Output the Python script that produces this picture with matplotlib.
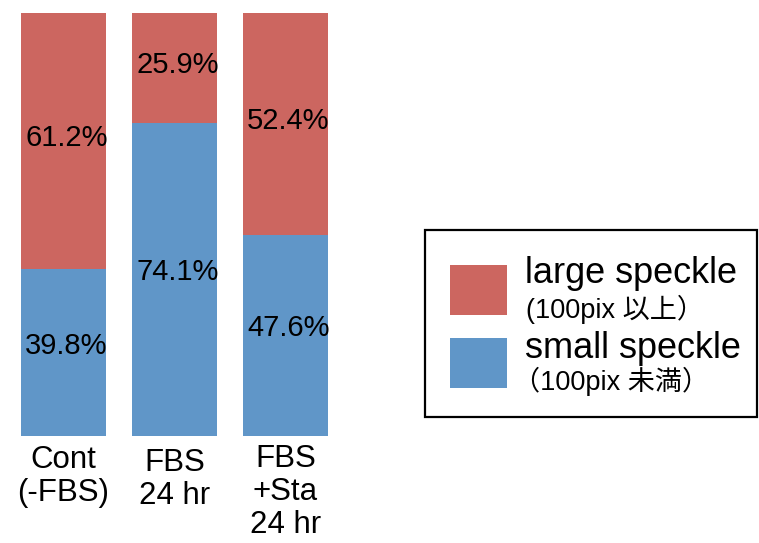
import matplotlib
matplotlib.use("Agg")
import matplotlib.pyplot as plt
from matplotlib.patches import Rectangle
from matplotlib.transforms import blended_transform_factory
import numpy as np

plt.rcParams['font.family'] = ['Liberation Sans', 'Noto Sans CJK JP', 'DejaVu Sans']

categories = ["Cont\n(-FBS)", "FBS\n24 hr", "FBS\n+Sta\n24 hr"]
small_speckle = [39.8, 74.1, 47.6]   # < 100 pix
large_speckle = [61.2, 25.9, 52.4]   # >= 100 pix

series_names = ["large speckle", "small speckle"]
series_notes = ["(100pix 以上）", "（100pix 未満）"]

red = "#CC6660"
blue = "#6096C8"

W, H = 759, 543
fig = plt.figure(figsize=(W / 100, H / 100), dpi=100)
ax = fig.add_axes([21 / W, 107 / H, (328 - 21) / W, (436 - 13) / H])

small = np.array(small_speckle)
large = np.array(large_speckle)
total = small + large
small_pct = small / total * 100
large_pct = large / total * 100

x = np.arange(len(categories))
width = 0.766
ax.bar(x, small_pct, width=width, color=blue)
ax.bar(x, large_pct, width=width, bottom=small_pct, color=red)

ax.set_xlim(-0.383, len(categories) - 1 + 0.383)
ax.set_ylim(0, 100)
for s in ax.spines.values():
    s.set_visible(False)
ax.set_yticks([])
ax.set_xticks([])

# category labels below the bars (x in data units, y in figure pixels)
def fx(px):
    return px / W

def fy(py):
    return 1 - py / H

cat_trans = blended_transform_factory(ax.transData, fig.transFigure)
cat_tops = [445, 448, 444]
for xi, lab, top in zip(x, categories, cat_tops):
    ax.text(xi, fy(top), lab, transform=cat_trans, ha='center', va='top',
            fontsize=22.5, linespacing=1.13, multialignment='center')

fs = 21
for i in range(len(categories)):
    ax.annotate(f"{small[i]:.1f}%", (x[i], small_pct[i] / 2),
                xytext=(2, 5), textcoords='offset points',
                ha='center', va='center', fontsize=fs)
    ax.annotate(f"{large[i]:.1f}%", (x[i], small_pct[i] + large_pct[i] / 2),
                xytext=(2, 2), textcoords='offset points',
                ha='center', va='center', fontsize=fs)

# legend box drawn in figure pixel space
box = Rectangle((fx(425), fy(417)), fx(757) - fx(425), fy(230) - fy(417),
                transform=fig.transFigure, fill=False, edgecolor='black', linewidth=1.6)
fig.patches.append(box)

colors = [red, blue]
tops = [265, 338]
name_base = [283, 358]
note_base = [318, 390]
note_x = [526, 513]
for name, note, c, t, nb, ob, ox in zip(series_names, series_notes, colors, tops,
                                        name_base, note_base, note_x):
    fig.patches.append(Rectangle((fx(450), fy(t + 50)), fx(507) - fx(450), fy(t) - fy(t + 50),
                                 transform=fig.transFigure, facecolor=c, edgecolor='none'))
    fig.text(fx(525), fy(nb), name, fontsize=26, va='baseline', ha='left')
    fig.text(fx(ox), fy(ob), note, fontsize=19.5, va='baseline', ha='left')

fig.savefig("out.png", dpi=100)
